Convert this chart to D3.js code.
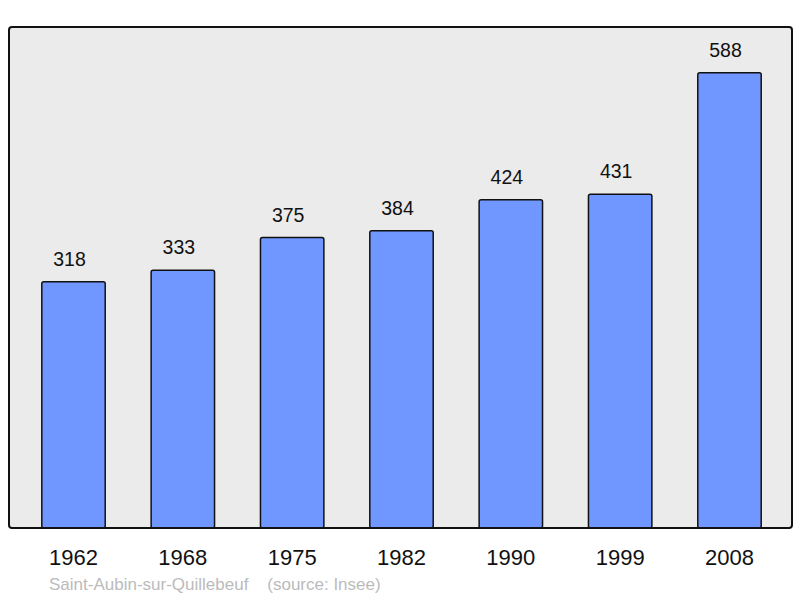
<!DOCTYPE html>
<html>
<head>
<meta charset="utf-8">
<script src="https://cdn.jsdelivr.net/npm/d3@7"></script>
<style>
  body { margin: 0; background: #fff; }
  svg { display: block; font-family: "Liberation Sans", Arial, sans-serif; }
</style>
</head>
<body>
<svg width="800" height="598"></svg>
<script>
// population data
var years = ["1962", "1968", "1975", "1982", "1990", "1999", "2008"];
var population = [318, 333, 375, 384, 424, 431, 588];
var commune = "Saint-Aubin-sur-Quillebeuf";
var source = "(source: Insee)";

var frame = { left: 9, right: 792, top: 27, bottom: 528 };

var svg = d3.select("svg");

// background panel
svg.append("rect")
    .attr("x", frame.left)
    .attr("y", frame.top)
    .attr("width", frame.right - frame.left)
    .attr("height", frame.bottom - frame.top)
    .attr("rx", 3)
    .attr("fill", "#ebebeb")
    .attr("stroke", "none");

var xScale = d3.scaleBand()
    .domain(years)
    .range([frame.left, frame.right + 2])
    .paddingInner(0.42)
    .paddingOuter(0.3);

var yScale = d3.scaleLinear()
    .domain([0, 647])
    .range([frame.bottom, frame.top]);

var data = years.map(function(y, i) { return { year: y, value: population[i] }; });

// bars
svg.selectAll("rect.bar")
    .data(data)
    .enter()
    .append("rect")
      .attr("class", "bar")
      .attr("x", d => xScale(d.year))
      .attr("y", d => yScale(d.value))
      .attr("width", xScale.bandwidth())
      .attr("height", d => frame.bottom - yScale(d.value))
      .attr("rx", 2)
      .attr("fill", "#7096ff")
      .attr("stroke", "#111")
      .attr("stroke-width", 1.5);

// value labels
svg.selectAll("text.value")
    .data(data)
    .enter()
    .append("text")
      .attr("class", "value")
      .attr("x", d => xScale(d.year) + xScale.bandwidth() / 2 - 4)
      .attr("y", d => yScale(d.value) - 16)
      .attr("text-anchor", "middle")
      .attr("font-size", 19.5)
      .attr("fill", "#111")
      .text(d => d.value);

// frame outline drawn on top
svg.append("rect")
    .attr("x", frame.left)
    .attr("y", frame.top)
    .attr("width", frame.right - frame.left)
    .attr("height", frame.bottom - frame.top)
    .attr("rx", 3)
    .attr("fill", "none")
    .attr("stroke", "#111")
    .attr("stroke-width", 2);

// year axis (labels only)
var xAxis = d3.axisBottom(xScale).tickSize(0).tickPadding(0);
var axisG = svg.append("g")
    .attr("transform", "translate(0," + (frame.bottom + 37) + ")")
    .call(xAxis);
axisG.select(".domain").remove();
axisG.selectAll("text")
    .attr("dy", 0)
    .attr("font-size", 22)
    .attr("font-family", "Liberation Sans, Arial, sans-serif")
    .attr("fill", "#111");

// footer
svg.append("text")
    .attr("x", 49)
    .attr("y", 590)
    .attr("font-size", 17)
    .attr("fill", "#bbbbbb")
    .attr("xml:space", "preserve")
    .text(commune + "    " + source);
</script>
</body>
</html>
